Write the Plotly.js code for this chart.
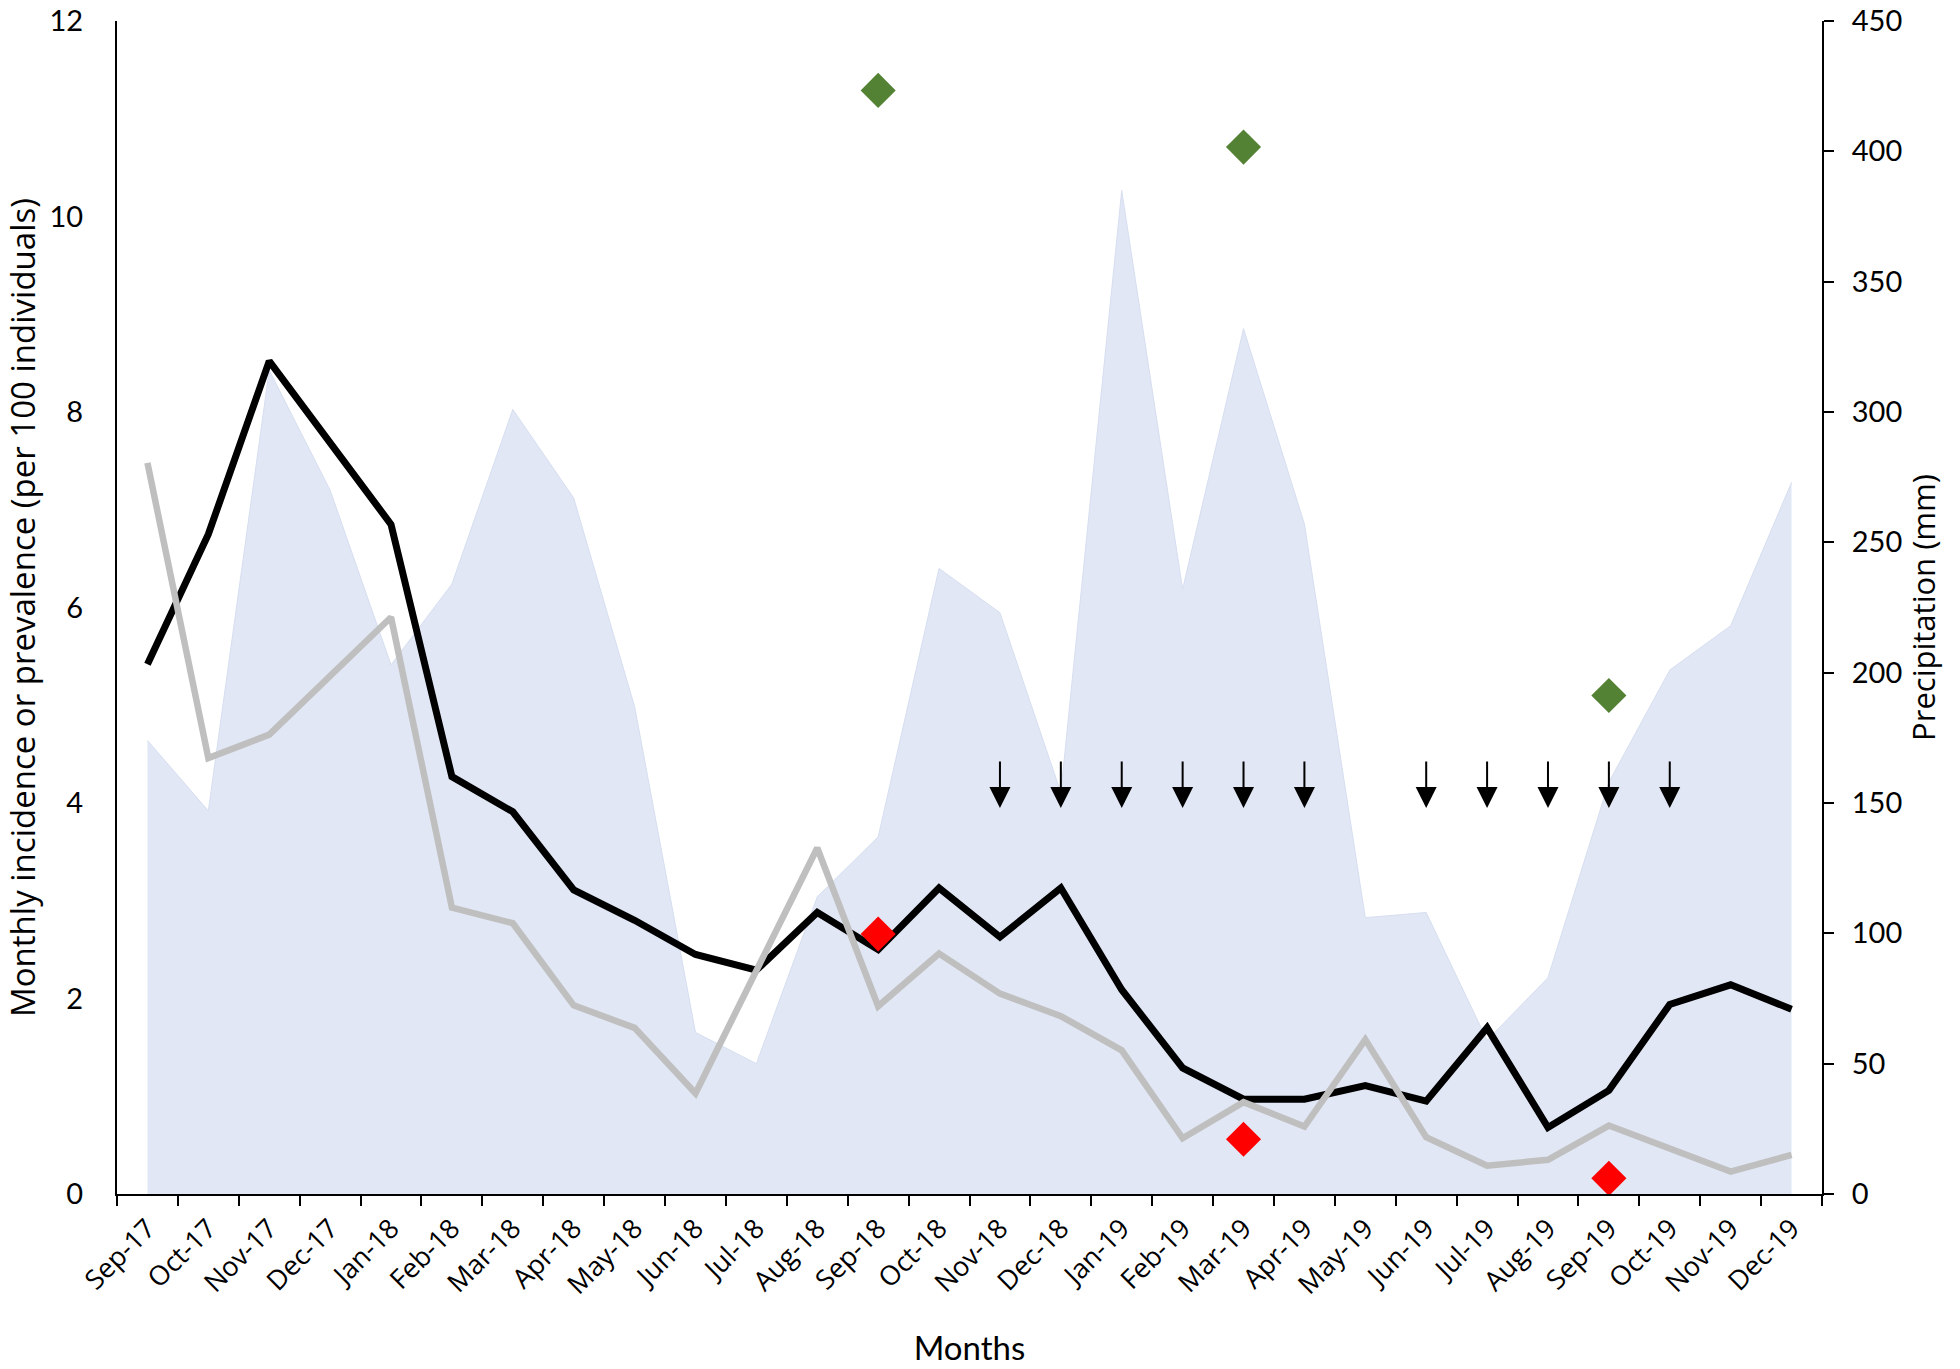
<!DOCTYPE html>
<html>
<head>
<meta charset="utf-8">
<script src="https://cdn.plot.ly/plotly-3.0.1.min.js"></script>
<style>
  html, body { margin: 0; padding: 0; background: #ffffff; }
  #chart { width: 1960px; height: 1369px; }
</style>
</head>
<body>
<div id="chart"></div>
<script>
// ---- data ----
const months = ['Sep-17','Oct-17','Nov-17','Dec-17','Jan-18','Feb-18','Mar-18','Apr-18','May-18','Jun-18','Jul-18','Aug-18','Sep-18','Oct-18','Nov-18','Dec-18','Jan-19','Feb-19','Mar-19','Apr-19','May-19','Jun-19','Jul-19','Aug-19','Sep-19','Oct-19','Nov-19','Dec-19'];

// monthly incidence (black line), per 100 individuals
const incidence = [5.42, 6.75, 8.52, 7.68, 6.85, 4.27, 3.91, 3.11, 2.80, 2.45, 2.29, 2.88, 2.50, 3.13, 2.63, 3.13, 2.09, 1.29, 0.97, 0.97, 1.11, 0.95, 1.70, 0.68, 1.06, 1.94, 2.14, 1.89];

// monthly prevalence (grey line), per 100 individuals
const prevalence = [7.48, 4.46, 4.70, 5.30, 5.90, 2.93, 2.77, 1.93, 1.70, 1.03, 2.30, 3.54, 1.92, 2.46, 2.05, 1.82, 1.47, 0.57, 0.94, 0.69, 1.58, 0.58, 0.29, 0.35, 0.70, 0.46, 0.23, 0.40];

// monthly precipitation (mm), shaded area
const precipitation = [174, 147, 316, 270, 203, 234, 301, 267, 187, 62, 50, 114, 137, 240, 223, 154, 385, 232, 332, 257, 106, 108, 59, 83, 158, 201, 218, 273];

// green diamonds
const greenMonths = ['Sep-18', 'Mar-19', 'Sep-19'];
const greenValues = [11.29, 10.71, 5.10];

// red diamonds
const redMonths = ['Sep-18', 'Mar-19', 'Sep-19'];
const redValues = [2.66, 0.56, 0.16];

// downward arrows (months), tail and head levels on the left axis
const arrowMonths = ['Nov-18','Dec-18','Jan-19','Feb-19','Mar-19','Apr-19','Jun-19','Jul-19','Aug-19','Sep-19','Oct-19'];
const arrowTop = 4.44;
const arrowTip = 3.95;

// axis tick values
const leftTicks = [0, 2, 4, 6, 8, 10, 12];
const rightTicks = [0, 50, 100, 150, 200, 250, 300, 350, 400, 450];

// ---- traces ----
const traces = [
  {
    x: months, y: precipitation, xaxis: 'x', yaxis: 'y',
    type: 'scatter', mode: 'lines', fill: 'tozeroy',
    fillcolor: 'rgb(225,231,244)',
    line: { color: 'rgb(214,222,240)', width: 1 },
    hoverinfo: 'skip', showlegend: false
  },
  {
    x: months, y: incidence, xaxis: 'x', yaxis: 'y2',
    type: 'scatter', mode: 'lines',
    line: { color: '#000000', width: 7 },
    showlegend: false
  },
  {
    x: months, y: prevalence, xaxis: 'x', yaxis: 'y2',
    type: 'scatter', mode: 'lines',
    line: { color: '#BFBFBF', width: 6.5 },
    showlegend: false
  },
  {
    x: greenMonths, y: greenValues, xaxis: 'x', yaxis: 'y2',
    type: 'scatter', mode: 'markers',
    marker: { symbol: 'diamond', size: 27, color: '#548235', line: { width: 0 } },
    showlegend: false
  },
  {
    x: redMonths, y: redValues, xaxis: 'x', yaxis: 'y2',
    type: 'scatter', mode: 'markers',
    marker: { symbol: 'diamond', size: 27, color: '#FF0000', line: { width: 0 } },
    showlegend: false
  }
];

const annotations = arrowMonths.map(m => ({
  x: m, y: arrowTip, xref: 'x', yref: 'y2',
  ax: m, ay: arrowTop, axref: 'x', ayref: 'y2',
  text: '', showarrow: true,
  arrowhead: 2, arrowsize: 2.1, arrowwidth: 2, arrowcolor: '#000000'
}));

const tickFont = { family: 'Lato, "Open Sans", sans-serif', size: 29, color: '#000000' };

const layout = {
  width: 1960, height: 1369,
  margin: { l: 117, r: 138, t: 21, b: 175, pad: 0 },
  paper_bgcolor: '#ffffff', plot_bgcolor: '#ffffff',
  showlegend: false,
  xaxis: {
    type: 'category', categoryorder: 'array', categoryarray: months,
    range: [-0.5, 27.5],
    tickson: 'boundaries', ticks: 'outside', ticklen: 10, tickwidth: 2, tickcolor: '#000000',
    showline: true, linecolor: '#000000', linewidth: 2,
    showgrid: false, zeroline: false,
    tickangle: -45, ticklabelstandoff: 6,
    tickfont: { family: '"Open Sans", "Noto Sans", sans-serif', size: 27, color: '#000000' },
    title: { text: 'Months', font: { family: 'Lato, sans-serif', size: 33, color: '#000000' }, standoff: 36 },
    automargin: false
  },
  yaxis: {
    side: 'right', anchor: 'x',
    range: [0, 450], tickmode: 'array', tickvals: rightTicks,
    ticks: 'outside', ticklen: 10, tickwidth: 2, tickcolor: '#000000',
    showline: true, linecolor: '#000000', linewidth: 2,
    showgrid: false, zeroline: false,
    tickfont: tickFont, ticklabelstandoff: 12,
    title: { text: 'Precipitation (mm)', font: { family: '"Open Sans", "Noto Sans", sans-serif', size: 31, color: '#000000' }, standoff: 12 },
    automargin: false
  },
  yaxis2: {
    side: 'left', anchor: 'x', overlaying: 'y',
    range: [0, 12], tickmode: 'array', tickvals: leftTicks,
    ticks: '', showline: true, linecolor: '#000000', linewidth: 2,
    showgrid: false, zeroline: false,
    tickfont: tickFont, ticklabelstandoff: 26,
    title: { text: 'Monthly incidence or prevalence (per 100 individuals)', font: { family: '"Open Sans", "Noto Sans", sans-serif', size: 33, color: '#000000' }, standoff: 8 },
    automargin: false
  },
  annotations: annotations
};

Plotly.newPlot('chart', traces, layout, { staticPlot: true, displayModeBar: false });
</script>
</body>
</html>
